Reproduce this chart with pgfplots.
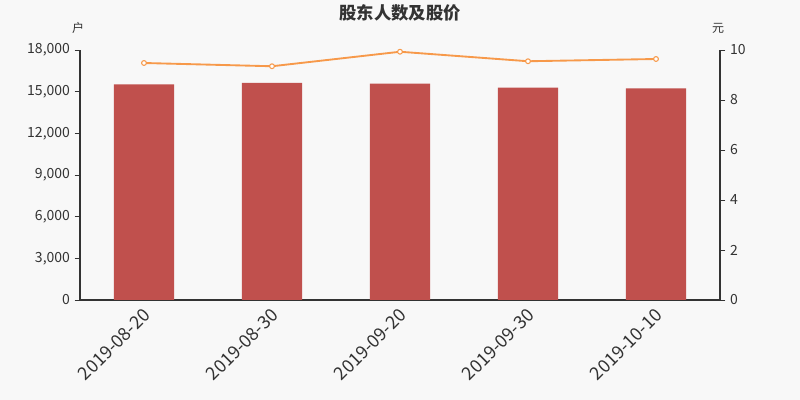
\documentclass[border=0pt]{standalone}
\usepackage{pgfplots}
\pgfplotsset{compat=1.18}
\usepackage{fontspec}
\setmainfont{Noto Sans CJK SC}
\definecolor{bg}{HTML}{F8F8F8}
\definecolor{barred}{HTML}{C0504D}
\definecolor{lineorange}{HTML}{F7994A}
\definecolor{ax}{HTML}{333333}
\begin{document}
\begin{tikzpicture}
\fill[bg] (0,0) rectangle (600pt,300pt);
\node[text=ax,font=\fontsize{13}{15}\selectfont\bfseries] at (300pt,290pt) {股东人数及股价};
\node[text=ax,font=\fontsize{9}{10}\selectfont] at (58.5pt,279pt) {户};
\node[text=ax,font=\fontsize{9}{10}\selectfont] at (538.5pt,279pt) {元};
\pgfplotsset{
  every axis/.append style={
    at={(60pt,75pt)}, anchor=south west,
    width=480pt, height=187.5pt, scale only axis,
    xmin=-0.5, xmax=4.5,
    tick align=outside,
    axis line style={ax, line width=0.8pt},
    tick style={ax, line width=0.6pt},
    major tick length=4pt,
    /pgf/number format/assume math mode=true,
    ticklabel style={text=ax, font=\fontsize{10.5}{12}\selectfont},
  }
}
\begin{axis}[
  axis x line*=bottom, axis y line*=left,
  ymin=0, ymax=18000,
  ytick={0,3000,...,18000},
  scaled y ticks=false,
  yticklabel style={/pgf/number format/.cd, 1000 sep={,}},
  xtick={0,...,4},
  xticklabels={2019-08-20,2019-08-30,2019-09-20,2019-09-30,2019-10-10},
  xtick style={draw=none},
  minor xtick={-0.5,0.5,...,4.5},
  minor tick length=4pt,
  xticklabel style={rotate=45, anchor=east, font=\fontsize{13.5}{15}\selectfont, xshift=1.5pt, yshift=-5pt},
]
\addplot[ybar, bar width=0.469, fill=barred, draw=none] coordinates {
  (0,15530) (1,15624) (2,15576) (3,15288) (4,15240)};
\end{axis}
\begin{axis}[
  axis x line=none, axis y line*=right,
  ymin=0, ymax=10,
  ytick={0,2,...,10},
  clip=false,
]
\addplot[lineorange, line width=1.4pt, mark=*, mark size=1.8pt,
  mark options={fill=white, draw=lineorange, line width=0.8pt}] coordinates {
  (0,9.48) (1,9.35) (2,9.93) (3,9.55) (4,9.64)};
\end{axis}
\end{tikzpicture}
\end{document}
